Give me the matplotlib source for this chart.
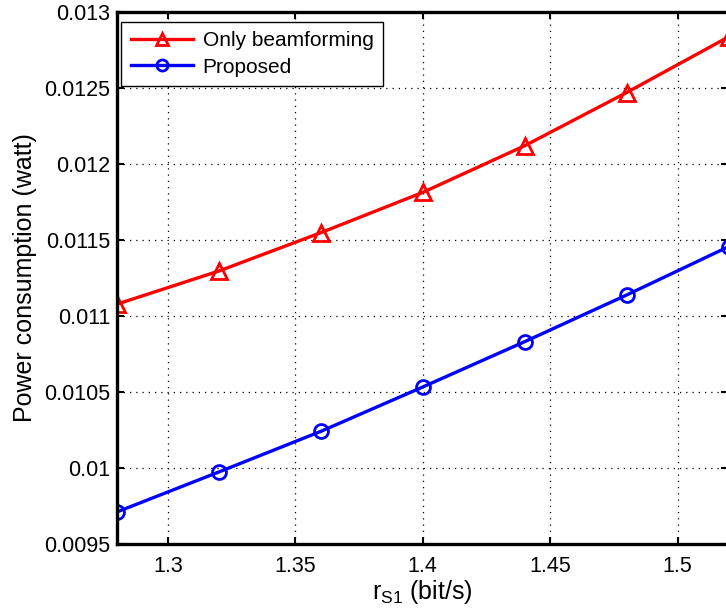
import numpy as np
import matplotlib.pyplot as plt

plt.rcParams.update({
    "font.family": ["Liberation Sans", "DejaVu Sans"],
    "font.size": 15.5,
})

# data
rate = [1.28, 1.32, 1.36, 1.40, 1.44, 1.48, 1.52]
only_bf = [0.011078, 0.011296, 0.011548, 0.011813, 0.012120, 0.012470, 0.012836]
proposed = [0.009711, 0.009974, 0.010241, 0.010533, 0.010831, 0.011138, 0.011456]

xticks = [1.3, 1.35, 1.4, 1.45, 1.5]
xticklabels = ["1.3", "1.35", "1.4", "1.45", "1.5"]
yticks = [0.0095, 0.01, 0.0105, 0.011, 0.0115, 0.012, 0.0125, 0.013]
yticklabels = ["0.0095", "0.01", "0.0105", "0.011", "0.0115", "0.012", "0.0125", "0.013"]

fig = plt.figure(figsize=(7.26, 6.13), dpi=100)
W, H = 726, 613
# axes runs past the right edge of the figure, as in the cropped original
ax = fig.add_axes([117 / W, 69 / H, 611.5 / W, 532 / H])

ax.plot(rate, only_bf, "-^", color="red", linewidth=2.4, markersize=11,
        markerfacecolor="none", markeredgewidth=2, label="Only beamforming")
ax.plot(rate, proposed, "-o", color="blue", linewidth=2.4, markersize=10,
        markerfacecolor="none", markeredgewidth=2, label="Proposed")

ax.set_xlim(1.28, 1.52)
ax.set_ylim(0.0095, 0.013)
ax.set_xticks(xticks)
ax.set_xticklabels(xticklabels)
ax.set_yticks(yticks)
ax.set_yticklabels(yticklabels)

ax.grid(True, linestyle=(0, (1, 4)), color="black", linewidth=0.9)
ax.tick_params(direction="in", length=5, width=1.5, top=True, right=True,
               labelsize=15.5, pad=5)
ax.tick_params(axis="x", pad=9)
for s in ax.spines.values():
    s.set_linewidth(2.4)

ax.set_xlabel(r"r$_{\mathregular{S1}}$ (bit/s)", fontsize=18, labelpad=0)
ax.set_ylabel("Power consumption (watt)", fontsize=18, labelpad=5)

leg = ax.legend(loc="upper left", bbox_to_anchor=(0.007, 0.981), fancybox=False,
                edgecolor="black", framealpha=1, fontsize=15, handlelength=3.0,
                borderpad=0.45, labelspacing=0.35, borderaxespad=0,
                handletextpad=0.45, markerscale=0.8)
leg.get_frame().set_linewidth(1.0)

fig.savefig("out.png", dpi=100)
